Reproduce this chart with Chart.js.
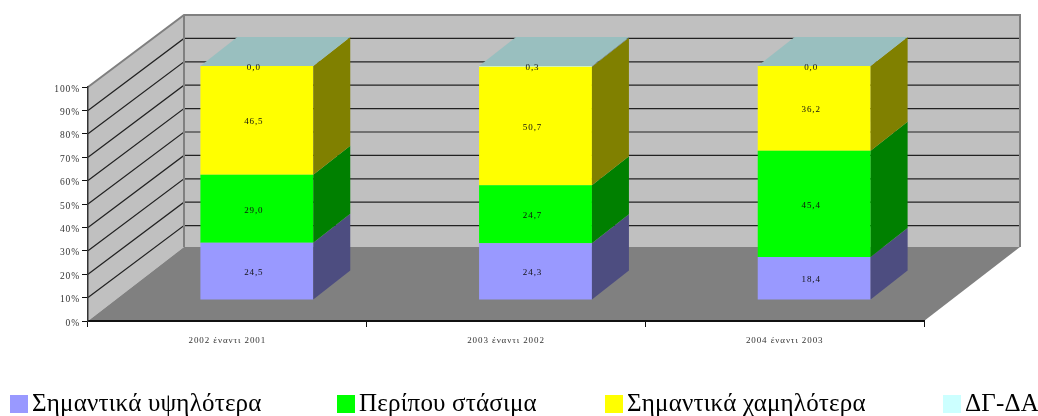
<!DOCTYPE html>
<html>
<head>
<meta charset="utf-8">
<script src="https://cdn.jsdelivr.net/npm/chart.js@4"></script>
<style>
  html, body { margin: 0; padding: 0; background: #fff; }
  canvas { display: block; }
</style>
</head>
<body>
<canvas id="chart" width="1038" height="416"></canvas>
<script>
const categories = ['2002 έναντι 2001', '2003 έναντι 2002', '2004 έναντι 2003']
const seriesNames = ['Σημαντικά υψηλότερα', 'Περίπου στάσιμα', 'Σημαντικά χαμηλότερα', 'ΔΓ-ΔΑ']
const higher = [24.5, 24.3, 18.4]
const stable = [29.0, 24.7, 45.4]
const lower = [46.5, 50.7, 36.2]
const other = [0.0, 0.3, 0.0]

const FRONT = ['#9999ff', '#00ff00', '#ffff00', '#ccffff']
const SIDE = ['#4d4d80', '#008000', '#808000', '#668080']
const TOP = '#99bfbf'
const WALL = '#c0c0c0'
const FLOOR = '#808080'
const EDGE = '#808080'
const SERIF = "'Liberation Serif', serif"

// 3D box offsets
const WALL_DX = 96
const WALL_DY = 72
const FLOOR_DY = 74
const BAR_SHIFT_X = 29.5
const BAR_SHIFT_Y = 21
const BAR_DX = 37
const BAR_DY = 29
const LEGEND_LEFT = [10, 337, 605, 943]

function poly(ctx, pts, fill) {
  ctx.beginPath()
  pts.forEach((p, i) => i ? ctx.lineTo(p[0], p[1]) : ctx.moveTo(p[0], p[1]))
  ctx.closePath()
  ctx.fillStyle = fill
  ctx.fill()
}

const box3d = {
  id: 'box3d',
  beforeDraw(chart) {
    const { ctx, chartArea: a, scales: { y } } = chart
    const bx = a.left + WALL_DX, rx = a.right + WALL_DX
    const top = a.top - WALL_DY
    ctx.save()
    poly(ctx, [[bx, top], [rx, top], [rx, a.bottom - FLOOR_DY], [bx, a.bottom - FLOOR_DY]], WALL)
    poly(ctx, [[a.left, a.top], [bx, top], [bx, a.bottom - FLOOR_DY], [a.left, a.bottom]], WALL)
    poly(ctx, [[a.left, a.bottom], [bx, a.bottom - FLOOR_DY], [rx, a.bottom - FLOOR_DY], [a.right, a.bottom]], FLOOR)

    ctx.strokeStyle = '#222'
    ctx.lineWidth = 1.2
    y.ticks.forEach(t => {
      if (t.value === 0 || t.value === 100) return
      const py = y.getPixelForValue(t.value)
      ctx.beginPath()
      ctx.moveTo(a.left, py)
      ctx.lineTo(bx, py - WALL_DY)
      ctx.lineTo(rx, py - WALL_DY)
      ctx.stroke()
    })

    ctx.strokeStyle = EDGE
    ctx.lineWidth = 2
    ctx.beginPath()
    ctx.moveTo(a.left, a.top)
    ctx.lineTo(bx, top)
    ctx.lineTo(rx, top)
    ctx.lineTo(rx, a.bottom - FLOOR_DY)
    ctx.moveTo(bx, top)
    ctx.lineTo(bx, a.bottom - FLOOR_DY)
    ctx.stroke()
    ctx.restore()
    ctx.letterSpacing = '0.9px'
  },
  beforeDatasetsDraw(chart) {
    chart.ctx.save()
    chart.ctx.translate(BAR_SHIFT_X, -BAR_SHIFT_Y)
  },
  afterDatasetsDraw(chart) {
    const { ctx, data } = chart
    // still translated: side faces, top face, then value labels
    data.datasets.forEach((ds, i) => {
      chart.getDatasetMeta(i).data.forEach(bar => {
        const r = bar.x + bar.width / 2
        poly(ctx, [[r, bar.y], [r + BAR_DX, bar.y - BAR_DY], [r + BAR_DX, bar.base - BAR_DY], [r, bar.base]], SIDE[i])
      })
    })
    const last = chart.getDatasetMeta(data.datasets.length - 1).data
    last.forEach(bar => {
      const l = bar.x - bar.width / 2, r = bar.x + bar.width / 2
      poly(ctx, [[l, bar.y], [l + BAR_DX, bar.y - BAR_DY], [r + BAR_DX, bar.y - BAR_DY], [r, bar.y]], TOP)
    })
    ctx.font = '9px ' + SERIF
    ctx.fillStyle = '#111'
    ctx.textAlign = 'center'
    ctx.textBaseline = 'middle'
    data.datasets.forEach((ds, i) => {
      chart.getDatasetMeta(i).data.forEach((bar, j) => {
        const label = ds.data[j].toFixed(1).replace('.', ',')
        ctx.fillText(label, bar.x - 3, (bar.y + bar.base) / 2 + 1.5)
      })
    })
    ctx.restore()
  },
  afterDraw(chart) {
    const { ctx, data } = chart
    const boxSize = 18, boxGap = 4
    ctx.save()
    ctx.letterSpacing = '0.2px'
    ctx.font = '25px ' + SERIF
    ctx.textAlign = 'left'
    ctx.textBaseline = 'alphabetic'
    data.datasets.forEach((ds, i) => {
      const x = LEGEND_LEFT[i]
      ctx.fillStyle = FRONT[i]
      ctx.fillRect(x, 395, boxSize, boxSize)
      ctx.fillStyle = '#000'
      ctx.fillText(ds.label, x + boxSize + boxGap, 411)
    })
    ctx.restore()
  },
}

new Chart(document.getElementById('chart'), {
  type: 'bar',
  data: {
    labels: categories,
    datasets: [higher, stable, lower, other].map((values, i) => ({
      label: seriesNames[i],
      data: values,
      backgroundColor: FRONT[i],
      borderWidth: 0,
      categoryPercentage: 1,
      barPercentage: 0.405,
      clip: false,
    })),
  },
  options: {
    responsive: false,
    animation: false,
    layout: { padding: { top: 87, right: 114, left: 0, bottom: 0 } },
    plugins: { legend: { display: false }, tooltip: { enabled: false } },
    scales: {
      x: {
        stacked: true,
        afterFit: s => { s.height = 95 },
        grid: { offset: true, drawOnChartArea: false, color: '#111', tickLength: 6, lineWidth: 1 },
        border: { color: '#111', width: 2 },
        ticks: { color: '#333', padding: 8, maxRotation: 0, font: { family: SERIF, size: 9 } },
      },
      y: {
        stacked: true,
        min: 0,
        max: 100,
        afterFit: s => { s.width = 88 },
        grid: { drawOnChartArea: false, color: '#111', tickLength: 6, lineWidth: 1 },
        border: { color: '#333', width: 1.5 },
        ticks: {
          stepSize: 10,
          color: '#333',
          padding: 2,
          labelOffset: 2,
          font: { family: SERIF, size: 9.5 },
          callback: v => v + '%',
        },
      },
    },
  },
  plugins: [box3d],
})
</script>
</body>
</html>
